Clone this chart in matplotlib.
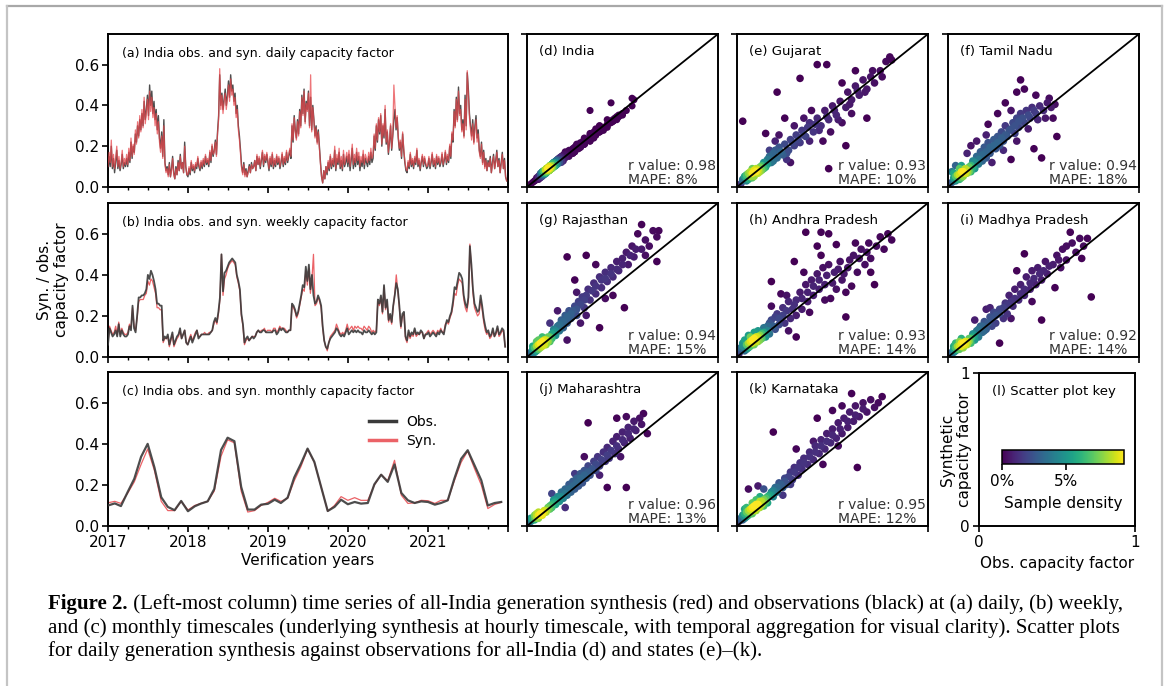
import numpy as np
import pandas as pd
import matplotlib
matplotlib.use('Agg')
import matplotlib.pyplot as plt
import matplotlib.dates as mdates
from matplotlib.lines import Line2D
from matplotlib.colors import Normalize
from matplotlib.cm import ScalarMappable
from matplotlib.ticker import FuncFormatter

# ---------------- DATA ----------------
# Daily (5-day sampled) all-India capacity factor, 73 values per year
daily_obs_2017 = [0.08, 0.15, 0.10, 0.20, 0.09, 0.14, 0.07, 0.12, 0.18, 0.09, 0.13, 0.08,
                  0.11, 0.16, 0.09, 0.12, 0.10, 0.14, 0.10, 0.17, 0.12, 0.22, 0.14, 0.20,
                  0.17, 0.26, 0.22, 0.30, 0.25, 0.33, 0.28, 0.36, 0.30, 0.42, 0.33, 0.38,
                  0.45, 0.35, 0.50, 0.40, 0.47, 0.36, 0.42, 0.33, 0.38, 0.28, 0.35, 0.24,
                  0.19, 0.27, 0.15, 0.33, 0.12, 0.08, 0.10, 0.06, 0.12, 0.05, 0.09, 0.15,
                  0.07, 0.04, 0.10, 0.06, 0.13, 0.08, 0.16, 0.09, 0.12, 0.07, 0.22, 0.10, 0.06]
daily_obs_2018 = [0.05, 0.09, 0.06, 0.12, 0.08, 0.10, 0.07, 0.11, 0.09, 0.14, 0.10, 0.08,
                  0.12, 0.09, 0.13, 0.10, 0.15, 0.11, 0.13, 0.10, 0.17, 0.12, 0.20, 0.15,
                  0.18, 0.23, 0.16, 0.27, 0.35, 0.55, 0.40, 0.46, 0.38, 0.43, 0.48, 0.40,
                  0.45, 0.52, 0.44, 0.55, 0.47, 0.50, 0.42, 0.46, 0.36, 0.40, 0.30, 0.25,
                  0.18, 0.10, 0.07, 0.12, 0.06, 0.09, 0.05, 0.08, 0.11, 0.07, 0.12, 0.09,
                  0.10, 0.13, 0.08, 0.15, 0.11, 0.14, 0.09, 0.13, 0.17, 0.10, 0.15, 0.12, 0.16]
daily_obs_2019 = [0.12, 0.08, 0.14, 0.10, 0.16, 0.09, 0.13, 0.10, 0.15, 0.11, 0.14, 0.09,
                  0.12, 0.16, 0.10, 0.14, 0.11, 0.17, 0.12, 0.15, 0.18, 0.14, 0.30, 0.22,
                  0.35, 0.28, 0.24, 0.33, 0.26, 0.38, 0.30, 0.45, 0.36, 0.48, 0.32, 0.42,
                  0.38, 0.47, 0.30, 0.44, 0.28, 0.40, 0.33, 0.25, 0.30, 0.22, 0.28, 0.20,
                  0.12, 0.05, 0.02, 0.08, 0.04, 0.10, 0.06, 0.12, 0.08, 0.15, 0.09, 0.13,
                  0.10, 0.18, 0.08, 0.14, 0.11, 0.17, 0.09, 0.13, 0.08, 0.16, 0.10, 0.12, 0.15]
daily_obs_2020 = [0.10, 0.16, 0.08, 0.13, 0.19, 0.09, 0.14, 0.10, 0.17, 0.11, 0.15, 0.08,
                  0.13, 0.10, 0.16, 0.09, 0.14, 0.12, 0.10, 0.15, 0.11, 0.17, 0.12, 0.14,
                  0.25, 0.18, 0.30, 0.22, 0.33, 0.26, 0.35, 0.20, 0.30, 0.24, 0.38, 0.21,
                  0.27, 0.16, 0.22, 0.30, 0.18, 0.25, 0.33, 0.38, 0.28, 0.34, 0.24, 0.18,
                  0.22, 0.14, 0.26, 0.18, 0.12, 0.08, 0.07, 0.12, 0.09, 0.16, 0.10, 0.13,
                  0.09, 0.14, 0.11, 0.18, 0.10, 0.13, 0.08, 0.12, 0.15, 0.10, 0.14, 0.11, 0.09]
daily_obs_2021 = [0.10, 0.14, 0.09, 0.12, 0.16, 0.10, 0.13, 0.09, 0.15, 0.11, 0.14, 0.10,
                  0.12, 0.16, 0.10, 0.13, 0.17, 0.11, 0.15, 0.12, 0.20, 0.14, 0.26, 0.22,
                  0.38, 0.30, 0.44, 0.33, 0.49, 0.36, 0.40, 0.28, 0.33, 0.25, 0.45, 0.30,
                  0.56, 0.48, 0.36, 0.30, 0.25, 0.33, 0.22, 0.30, 0.35, 0.24, 0.28, 0.18,
                  0.15, 0.22, 0.12, 0.18, 0.10, 0.14, 0.08, 0.13, 0.10, 0.15, 0.07, 0.12,
                  0.16, 0.09, 0.13, 0.18, 0.10, 0.14, 0.07, 0.12, 0.17, 0.09, 0.14, 0.05, 0.03]

daily_syn_2017 = [0.10, 0.17, 0.12, 0.23, 0.10, 0.16, 0.09, 0.14, 0.20, 0.10, 0.15, 0.09,
                  0.12, 0.18, 0.10, 0.14, 0.11, 0.16, 0.11, 0.19, 0.13, 0.24, 0.15, 0.21,
                  0.16, 0.28, 0.21, 0.32, 0.24, 0.35, 0.27, 0.38, 0.29, 0.44, 0.31, 0.36,
                  0.43, 0.33, 0.47, 0.37, 0.44, 0.34, 0.39, 0.30, 0.36, 0.26, 0.32, 0.22,
                  0.17, 0.25, 0.14, 0.30, 0.11, 0.07, 0.09, 0.05, 0.11, 0.05, 0.08, 0.14,
                  0.06, 0.04, 0.09, 0.06, 0.12, 0.08, 0.15, 0.09, 0.12, 0.07, 0.20, 0.10, 0.06]
daily_syn_2018 = [0.06, 0.10, 0.07, 0.13, 0.09, 0.11, 0.08, 0.12, 0.10, 0.15, 0.11, 0.09,
                  0.13, 0.10, 0.14, 0.11, 0.16, 0.12, 0.14, 0.11, 0.18, 0.13, 0.21, 0.16,
                  0.17, 0.22, 0.15, 0.26, 0.33, 0.58, 0.38, 0.45, 0.36, 0.42, 0.46, 0.38,
                  0.43, 0.50, 0.42, 0.53, 0.45, 0.48, 0.40, 0.44, 0.34, 0.38, 0.28, 0.23,
                  0.16, 0.09, 0.06, 0.11, 0.05, 0.08, 0.05, 0.07, 0.10, 0.07, 0.11, 0.09,
                  0.10, 0.13, 0.08, 0.16, 0.11, 0.15, 0.10, 0.14, 0.18, 0.11, 0.16, 0.13, 0.17]
daily_syn_2019 = [0.13, 0.09, 0.15, 0.11, 0.17, 0.10, 0.14, 0.11, 0.16, 0.12, 0.15, 0.10,
                  0.13, 0.17, 0.11, 0.15, 0.12, 0.18, 0.13, 0.16, 0.19, 0.15, 0.31, 0.23,
                  0.34, 0.27, 0.23, 0.32, 0.25, 0.37, 0.29, 0.44, 0.35, 0.47, 0.31, 0.41,
                  0.37, 0.46, 0.29, 0.55, 0.27, 0.39, 0.32, 0.24, 0.29, 0.21, 0.27, 0.19,
                  0.11, 0.05, 0.02, 0.08, 0.04, 0.10, 0.07, 0.13, 0.09, 0.16, 0.10, 0.14,
                  0.11, 0.20, 0.09, 0.16, 0.12, 0.19, 0.10, 0.15, 0.09, 0.18, 0.11, 0.14, 0.17]
daily_syn_2020 = [0.12, 0.18, 0.10, 0.15, 0.21, 0.11, 0.16, 0.12, 0.19, 0.13, 0.17, 0.10,
                  0.15, 0.12, 0.18, 0.11, 0.16, 0.14, 0.12, 0.17, 0.13, 0.19, 0.14, 0.16,
                  0.26, 0.19, 0.31, 0.23, 0.34, 0.27, 0.36, 0.21, 0.31, 0.25, 0.40, 0.22,
                  0.28, 0.17, 0.23, 0.31, 0.19, 0.26, 0.50, 0.40, 0.29, 0.35, 0.25, 0.19,
                  0.23, 0.15, 0.27, 0.19, 0.13, 0.09, 0.08, 0.13, 0.10, 0.17, 0.11, 0.14,
                  0.10, 0.15, 0.12, 0.19, 0.11, 0.14, 0.09, 0.13, 0.16, 0.11, 0.15, 0.12, 0.10]
daily_syn_2021 = [0.11, 0.15, 0.10, 0.13, 0.17, 0.11, 0.14, 0.10, 0.16, 0.12, 0.15, 0.11,
                  0.13, 0.17, 0.11, 0.14, 0.18, 0.12, 0.16, 0.13, 0.21, 0.15, 0.27, 0.23,
                  0.37, 0.29, 0.43, 0.32, 0.47, 0.35, 0.38, 0.27, 0.31, 0.24, 0.43, 0.28,
                  0.57, 0.46, 0.34, 0.28, 0.23, 0.31, 0.21, 0.28, 0.33, 0.22, 0.26, 0.17,
                  0.14, 0.21, 0.11, 0.17, 0.09, 0.13, 0.08, 0.12, 0.10, 0.14, 0.07, 0.11,
                  0.15, 0.09, 0.12, 0.17, 0.10, 0.13, 0.07, 0.11, 0.16, 0.09, 0.13, 0.05, 0.03]

# Weekly all-India capacity factor, 52 values per year
weekly_obs_2017 = [0.06, 0.14, 0.12, 0.10, 0.11, 0.13, 0.10, 0.16, 0.10, 0.13, 0.11, 0.10, 0.10,
                   0.11, 0.15, 0.13, 0.25, 0.14, 0.12, 0.20, 0.29, 0.29, 0.30, 0.30, 0.31, 0.33,
                   0.40, 0.38, 0.42, 0.40, 0.37, 0.33, 0.26, 0.26, 0.25, 0.25, 0.08, 0.10, 0.09,
                   0.11, 0.06, 0.09, 0.12, 0.06, 0.08, 0.10, 0.11, 0.14, 0.09, 0.11, 0.13, 0.07]
weekly_obs_2018 = [0.06, 0.08, 0.10, 0.07, 0.09, 0.11, 0.13, 0.09, 0.10, 0.11, 0.11, 0.11, 0.11,
                   0.11, 0.11, 0.12, 0.13, 0.17, 0.19, 0.17, 0.22, 0.29, 0.50, 0.32, 0.41, 0.42,
                   0.44, 0.46, 0.47, 0.48, 0.47, 0.46, 0.40, 0.37, 0.33, 0.21, 0.16, 0.07, 0.09,
                   0.10, 0.08, 0.09, 0.10, 0.09, 0.10, 0.12, 0.13, 0.12, 0.12, 0.13, 0.13, 0.12]
weekly_obs_2019 = [0.12, 0.12, 0.12, 0.12, 0.13, 0.13, 0.11, 0.12, 0.14, 0.13, 0.14, 0.13, 0.12,
                   0.12, 0.13, 0.13, 0.26, 0.25, 0.23, 0.20, 0.22, 0.26, 0.30, 0.35, 0.34, 0.44,
                   0.37, 0.45, 0.33, 0.40, 0.30, 0.26, 0.27, 0.30, 0.28, 0.25, 0.15, 0.08, 0.05,
                   0.04, 0.07, 0.09, 0.10, 0.11, 0.12, 0.14, 0.13, 0.11, 0.10, 0.11, 0.10, 0.12]
weekly_obs_2020 = [0.14, 0.11, 0.12, 0.13, 0.12, 0.13, 0.12, 0.13, 0.12, 0.12, 0.11, 0.13, 0.12,
                   0.12, 0.13, 0.12, 0.11, 0.12, 0.11, 0.12, 0.28, 0.26, 0.30, 0.22, 0.35, 0.24,
                   0.28, 0.18, 0.21, 0.17, 0.25, 0.30, 0.36, 0.33, 0.25, 0.15, 0.21, 0.22, 0.10,
                   0.08, 0.13, 0.10, 0.12, 0.11, 0.14, 0.11, 0.12, 0.11, 0.13, 0.12, 0.09, 0.11]
weekly_obs_2021 = [0.11, 0.12, 0.10, 0.11, 0.12, 0.11, 0.10, 0.12, 0.11, 0.13, 0.12, 0.11, 0.15,
                   0.18, 0.17, 0.20, 0.22, 0.27, 0.34, 0.33, 0.37, 0.41, 0.40, 0.38, 0.30, 0.26,
                   0.24, 0.29, 0.54, 0.45, 0.33, 0.26, 0.24, 0.22, 0.23, 0.30, 0.25, 0.19, 0.15,
                   0.12, 0.13, 0.10, 0.11, 0.14, 0.10, 0.12, 0.15, 0.11, 0.12, 0.14, 0.13, 0.05]

weekly_syn_2017 = [0.07, 0.15, 0.13, 0.11, 0.12, 0.15, 0.11, 0.17, 0.11, 0.14, 0.12, 0.11, 0.11,
                   0.12, 0.16, 0.14, 0.24, 0.15, 0.13, 0.19, 0.27, 0.28, 0.28, 0.28, 0.30, 0.31,
                   0.37, 0.35, 0.38, 0.37, 0.34, 0.31, 0.24, 0.24, 0.23, 0.23, 0.07, 0.09, 0.09,
                   0.10, 0.05, 0.08, 0.11, 0.05, 0.07, 0.09, 0.10, 0.13, 0.09, 0.11, 0.13, 0.07]
weekly_syn_2018 = [0.06, 0.09, 0.11, 0.08, 0.10, 0.12, 0.13, 0.10, 0.10, 0.11, 0.11, 0.12, 0.11,
                   0.11, 0.12, 0.12, 0.13, 0.16, 0.18, 0.16, 0.21, 0.28, 0.50, 0.30, 0.38, 0.40,
                   0.43, 0.45, 0.46, 0.47, 0.46, 0.45, 0.39, 0.36, 0.32, 0.20, 0.15, 0.06, 0.08,
                   0.09, 0.08, 0.09, 0.10, 0.10, 0.10, 0.12, 0.13, 0.12, 0.13, 0.13, 0.14, 0.12]
weekly_syn_2019 = [0.13, 0.13, 0.13, 0.12, 0.14, 0.14, 0.12, 0.13, 0.15, 0.14, 0.14, 0.14, 0.13,
                   0.12, 0.13, 0.13, 0.25, 0.24, 0.22, 0.19, 0.21, 0.25, 0.29, 0.33, 0.32, 0.42,
                   0.35, 0.43, 0.31, 0.38, 0.50, 0.25, 0.26, 0.29, 0.27, 0.24, 0.14, 0.08, 0.05,
                   0.03, 0.07, 0.10, 0.11, 0.12, 0.13, 0.16, 0.14, 0.12, 0.11, 0.12, 0.11, 0.13]
weekly_syn_2020 = [0.16, 0.13, 0.14, 0.15, 0.13, 0.15, 0.14, 0.15, 0.14, 0.14, 0.13, 0.15, 0.14,
                   0.13, 0.15, 0.14, 0.12, 0.13, 0.12, 0.13, 0.27, 0.25, 0.29, 0.21, 0.34, 0.23,
                   0.27, 0.17, 0.20, 0.16, 0.24, 0.31, 0.40, 0.32, 0.24, 0.14, 0.20, 0.21, 0.09,
                   0.07, 0.12, 0.09, 0.11, 0.10, 0.13, 0.10, 0.11, 0.11, 0.12, 0.12, 0.09, 0.11]
weekly_syn_2021 = [0.12, 0.13, 0.11, 0.12, 0.13, 0.12, 0.11, 0.13, 0.12, 0.14, 0.12, 0.12, 0.16,
                   0.17, 0.16, 0.19, 0.21, 0.25, 0.31, 0.30, 0.35, 0.38, 0.37, 0.36, 0.28, 0.24,
                   0.22, 0.27, 0.55, 0.43, 0.31, 0.24, 0.22, 0.20, 0.21, 0.28, 0.23, 0.17, 0.13,
                   0.11, 0.12, 0.09, 0.10, 0.13, 0.10, 0.11, 0.14, 0.10, 0.11, 0.13, 0.12, 0.05]

# Monthly all-India capacity factor, Jan 2017 .. Dec 2021
monthly_obs = [0.100, 0.110, 0.097, 0.166, 0.230, 0.337, 0.400, 0.285, 0.140, 0.093, 0.077, 0.122,
               0.072, 0.096, 0.109, 0.120, 0.180, 0.370, 0.430, 0.413, 0.190, 0.080, 0.080, 0.104,
               0.108, 0.128, 0.112, 0.138, 0.236, 0.304, 0.377, 0.312, 0.190, 0.073, 0.093, 0.128,
               0.106, 0.117, 0.109, 0.112, 0.203, 0.250, 0.215, 0.300, 0.161, 0.125, 0.112, 0.120,
               0.117, 0.104, 0.112, 0.125, 0.230, 0.327, 0.369, 0.296, 0.223, 0.100, 0.112, 0.117]
monthly_syn = [0.113, 0.120, 0.110, 0.160, 0.215, 0.300, 0.375, 0.270, 0.120, 0.075, 0.075, 0.120,
               0.078, 0.100, 0.110, 0.120, 0.170, 0.340, 0.420, 0.405, 0.170, 0.068, 0.075, 0.100,
               0.115, 0.135, 0.120, 0.135, 0.220, 0.290, 0.375, 0.310, 0.190, 0.072, 0.100, 0.143,
               0.125, 0.138, 0.125, 0.125, 0.200, 0.250, 0.220, 0.320, 0.150, 0.110, 0.113, 0.125,
               0.123, 0.110, 0.125, 0.125, 0.220, 0.310, 0.365, 0.280, 0.200, 0.085, 0.105, 0.115]

# Scatter panels: (obs, syn) daily capacity factor samples for each state
gujarat_pts = [(0.03,0.04),(0.05,0.06),(0.06,0.05),(0.08,0.09),(0.07,0.10),(0.09,0.07),(0.10,0.12),(0.11,0.09),
               (0.12,0.13),(0.04,0.07),(0.13,0.11),(0.14,0.16),(0.15,0.13),(0.16,0.18),(0.06,0.09),(0.09,0.11),
               (0.18,0.16),(0.19,0.22),(0.21,0.19),(0.22,0.26),(0.24,0.21),(0.25,0.28),(0.27,0.24),(0.28,0.31),
               (0.30,0.27),(0.17,0.24),(0.20,0.30),(0.26,0.18),(0.31,0.34),(0.33,0.29),(0.34,0.37),(0.36,0.33),
               (0.38,0.42),(0.40,0.36),(0.42,0.45),(0.44,0.40),(0.46,0.50),(0.48,0.44),(0.50,0.53),(0.52,0.47),
               (0.39,0.50),(0.45,0.30),(0.55,0.42),(0.35,0.45),(0.54,0.56),(0.57,0.52),(0.58,0.62),(0.60,0.57),
               (0.62,0.66),(0.64,0.60),(0.66,0.70),(0.68,0.64),(0.70,0.72),(0.72,0.68),(0.75,0.76),(0.78,0.82),
               (0.80,0.85),(0.81,0.83),(0.03,0.43),(0.21,0.62),(0.33,0.71),(0.42,0.80),(0.47,0.80),(0.25,0.45),
               (0.57,0.27),(0.68,0.45),(0.48,0.12),(0.28,0.16),(0.15,0.35),(0.62,0.76),(0.55,0.68),
               (0.02,0.02),(0.03,0.05),(0.05,0.04),(0.07,0.07),(0.08,0.06),(0.10,0.10),(0.11,0.11),(0.12,0.10),
               (0.13,0.14),(0.05,0.08),(0.08,0.12),(0.14,0.12),(0.16,0.15),(0.17,0.20),(0.19,0.17),(0.20,0.24),
               (0.23,0.23),(0.26,0.22),(0.29,0.29),(0.32,0.31),(0.35,0.34),(0.37,0.39),(0.41,0.41),(0.43,0.37),
               (0.47,0.46),(0.51,0.50),(0.53,0.44),(0.59,0.54),(0.63,0.63),(0.67,0.62),(0.22,0.34),(0.30,0.40),
               (0.38,0.30),(0.49,0.36),(0.60,0.48),(0.71,0.76),(0.76,0.72)]
tamil_nadu_pts = [(0.02,0.03),(0.03,0.06),(0.04,0.04),(0.05,0.08),(0.06,0.05),(0.07,0.10),(0.08,0.07),(0.09,0.12),
                  (0.10,0.09),(0.02,0.10),(0.04,0.14),(0.11,0.13),(0.12,0.10),(0.06,0.12),(0.13,0.17),(0.14,0.12),
                  (0.15,0.20),(0.16,0.15),(0.17,0.23),(0.18,0.17),(0.19,0.26),(0.20,0.19),(0.21,0.29),(0.22,0.22),
                  (0.10,0.22),(0.12,0.27),(0.15,0.30),(0.23,0.16),(0.25,0.25),(0.24,0.31),(0.26,0.33),(0.27,0.27),
                  (0.28,0.36),(0.29,0.30),(0.30,0.40),(0.31,0.33),(0.32,0.37),(0.34,0.42),(0.35,0.35),(0.36,0.45),
                  (0.37,0.39),(0.38,0.48),(0.40,0.42),(0.41,0.50),(0.43,0.45),(0.44,0.52),(0.46,0.48),(0.48,0.53),
                  (0.50,0.50),(0.52,0.55),(0.54,0.52),(0.56,0.54),(0.38,0.70),(0.36,0.62),(0.40,0.64),(0.49,0.19),
                  (0.45,0.25),(0.57,0.33),(0.30,0.55),(0.21,0.41),(0.33,0.18),(0.46,0.60),(0.55,0.45),(0.26,0.48),
                  (0.01,0.02),(0.03,0.04),(0.04,0.07),(0.05,0.05),(0.06,0.08),(0.07,0.06),(0.08,0.10),(0.09,0.09),
                  (0.10,0.11),(0.11,0.10),(0.12,0.14),(0.13,0.13),(0.03,0.09),(0.07,0.14),(0.14,0.16),(0.16,0.18),
                  (0.18,0.21),(0.20,0.23),(0.22,0.26),(0.24,0.27),(0.26,0.29),(0.28,0.32),(0.30,0.34),(0.33,0.38),
                  (0.35,0.40),(0.37,0.43),(0.39,0.45),(0.42,0.47),(0.45,0.50),(0.47,0.44),(0.20,0.34),(0.29,0.24),
                  (0.36,0.30),(0.42,0.38),(0.51,0.45),(0.33,0.50),(0.53,0.58)]
rajasthan_pts = [(0.02,0.03),(0.03,0.05),(0.04,0.03),(0.05,0.07),(0.06,0.05),(0.07,0.09),(0.08,0.07),(0.09,0.11),
                 (0.10,0.08),(0.11,0.13),(0.12,0.10),(0.05,0.10),(0.08,0.13),(0.13,0.15),(0.14,0.18),(0.15,0.14),
                 (0.16,0.20),(0.17,0.17),(0.18,0.24),(0.19,0.19),(0.20,0.27),(0.21,0.22),(0.22,0.30),(0.23,0.25),
                 (0.25,0.33),(0.26,0.27),(0.27,0.36),(0.12,0.22),(0.16,0.30),(0.21,0.11),(0.28,0.22),(0.29,0.39),
                 (0.30,0.32),(0.32,0.44),(0.33,0.37),(0.35,0.48),(0.36,0.41),(0.38,0.52),(0.39,0.45),(0.41,0.55),
                 (0.42,0.49),(0.44,0.58),(0.45,0.52),(0.47,0.62),(0.48,0.56),(0.50,0.64),(0.51,0.32),(0.38,0.19),
                 (0.45,0.40),(0.52,0.68),(0.53,0.60),(0.55,0.72),(0.56,0.65),(0.58,0.80),(0.60,0.70),(0.62,0.76),
                 (0.64,0.72),(0.66,0.82),(0.68,0.78),(0.69,0.82),(0.68,0.62),(0.21,0.65),(0.31,0.66),(0.25,0.50),
                 (0.36,0.60),(0.60,0.86),
                 (0.01,0.02),(0.03,0.03),(0.04,0.06),(0.05,0.04),(0.06,0.08),(0.07,0.06),(0.08,0.10),(0.09,0.08),
                 (0.10,0.11),(0.11,0.10),(0.12,0.13),(0.03,0.07),(0.06,0.11),(0.13,0.12),(0.14,0.16),(0.15,0.17),
                 (0.17,0.21),(0.19,0.23),(0.21,0.26),(0.23,0.28),(0.24,0.30),(0.26,0.31),(0.28,0.34),(0.30,0.37),
                 (0.31,0.40),(0.34,0.43),(0.36,0.46),(0.39,0.50),(0.41,0.51),(0.44,0.54),(0.47,0.57),(0.50,0.60),
                 (0.54,0.66),(0.57,0.70),(0.31,0.27),(0.41,0.38),(0.26,0.42),(0.62,0.66)]
andhra_pradesh_pts = [(0.02,0.04),(0.03,0.07),(0.05,0.05),(0.06,0.09),(0.07,0.07),(0.08,0.11),(0.09,0.08),(0.10,0.13),
                      (0.11,0.10),(0.12,0.14),(0.04,0.11),(0.13,0.12),(0.14,0.16),(0.06,0.14),(0.15,0.13),(0.09,0.16),
                      (0.16,0.20),(0.17,0.15),(0.18,0.24),(0.20,0.18),(0.21,0.28),(0.22,0.21),(0.24,0.32),(0.25,0.22),
                      (0.27,0.36),(0.28,0.25),(0.30,0.34),(0.31,0.27),(0.18,0.33),(0.23,0.41),(0.31,0.13),(0.27,0.17),
                      (0.33,0.42),(0.34,0.31),(0.36,0.47),(0.37,0.36),(0.39,0.50),(0.40,0.40),(0.42,0.54),(0.43,0.44),
                      (0.45,0.58),(0.46,0.47),(0.48,0.60),(0.49,0.38),(0.51,0.55),(0.52,0.44),(0.54,0.62),(0.55,0.50),
                      (0.57,0.26),(0.58,0.58),(0.60,0.46),(0.35,0.55),(0.44,0.66),(0.61,0.66),(0.63,0.55),(0.65,0.70),
                      (0.67,0.60),(0.69,0.74),(0.70,0.64),(0.72,0.47),(0.73,0.72),(0.75,0.78),(0.77,0.70),(0.79,0.80),
                      (0.81,0.76),(0.62,0.74),(0.70,0.55),(0.36,0.81),(0.44,0.81),(0.48,0.80),(0.42,0.72),(0.18,0.49),
                      (0.30,0.62),(0.52,0.73),
                      (0.01,0.02),(0.02,0.06),(0.04,0.04),(0.05,0.08),(0.06,0.06),(0.07,0.10),(0.08,0.09),(0.09,0.12),
                      (0.10,0.10),(0.11,0.13),(0.12,0.11),(0.13,0.15),(0.03,0.09),(0.07,0.13),(0.11,0.17),(0.14,0.19),
                      (0.16,0.17),(0.17,0.22),(0.19,0.20),(0.20,0.26),(0.22,0.25),(0.24,0.27),(0.26,0.30),(0.29,0.31),
                      (0.31,0.37),(0.34,0.38),(0.37,0.42),(0.40,0.46),(0.43,0.50),(0.47,0.53),(0.50,0.48),(0.53,0.57),
                      (0.56,0.54),(0.59,0.63),(0.64,0.64),(0.68,0.68),(0.26,0.40),(0.38,0.29),(0.46,0.37),(0.57,0.42)]
madhya_pradesh_pts = [(0.02,0.03),(0.03,0.05),(0.04,0.04),(0.05,0.07),(0.06,0.05),(0.07,0.09),(0.08,0.06),(0.09,0.10),
                      (0.10,0.08),(0.11,0.12),(0.12,0.09),(0.04,0.09),(0.13,0.13),(0.07,0.12),(0.14,0.11),(0.15,0.17),
                      (0.16,0.13),(0.17,0.20),(0.18,0.16),(0.19,0.23),(0.20,0.18),(0.22,0.26),(0.23,0.20),(0.24,0.29),
                      (0.25,0.22),(0.27,0.31),(0.27,0.09),(0.14,0.24),(0.20,0.31),(0.29,0.25),(0.30,0.35),(0.31,0.28),
                      (0.32,0.40),(0.34,0.33),(0.35,0.44),(0.37,0.37),(0.38,0.47),(0.40,0.40),(0.41,0.52),(0.43,0.44),
                      (0.44,0.56),(0.46,0.47),(0.47,0.58),(0.49,0.24),(0.49,0.50),(0.51,0.62),(0.52,0.54),(0.40,0.67),
                      (0.36,0.56),(0.55,0.60),(0.56,0.45),(0.57,0.66),(0.59,0.58),(0.60,0.70),(0.62,0.63),(0.64,0.81),
                      (0.65,0.74),(0.67,0.68),(0.69,0.77),(0.71,0.72),(0.73,0.77),(0.75,0.39),(0.70,0.64),
                      (0.01,0.02),(0.03,0.03),(0.04,0.06),(0.05,0.05),(0.06,0.07),(0.07,0.07),(0.08,0.09),(0.09,0.08),
                      (0.10,0.10),(0.11,0.10),(0.12,0.12),(0.03,0.07),(0.06,0.10),(0.13,0.15),(0.14,0.14),(0.16,0.18),
                      (0.18,0.20),(0.19,0.17),(0.21,0.22),(0.23,0.25),(0.25,0.27),(0.27,0.28),(0.29,0.32),(0.31,0.34),
                      (0.33,0.36),(0.35,0.38),(0.38,0.41),(0.40,0.44),(0.43,0.48),(0.45,0.51),(0.48,0.54),(0.50,0.56),
                      (0.53,0.59),(0.58,0.63),(0.22,0.32),(0.33,0.25),(0.44,0.36),(0.62,0.72)]
maharashtra_pts = [(0.02,0.03),(0.03,0.05),(0.04,0.04),(0.05,0.06),(0.06,0.05),(0.07,0.08),(0.08,0.07),(0.09,0.10),
                   (0.10,0.09),(0.11,0.12),(0.04,0.07),(0.12,0.11),(0.06,0.09),(0.13,0.14),(0.14,0.17),(0.15,0.14),
                   (0.16,0.19),(0.17,0.16),(0.18,0.22),(0.19,0.18),(0.20,0.24),(0.21,0.20),(0.22,0.27),(0.23,0.22),
                   (0.24,0.29),(0.25,0.24),(0.26,0.31),(0.27,0.26),(0.20,0.12),(0.13,0.21),(0.28,0.34),(0.29,0.28),
                   (0.30,0.36),(0.31,0.31),(0.32,0.39),(0.33,0.33),(0.35,0.42),(0.36,0.36),(0.37,0.45),(0.38,0.39),
                   (0.40,0.48),(0.41,0.42),(0.42,0.51),(0.43,0.44),(0.45,0.55),(0.46,0.47),(0.42,0.25),(0.52,0.25),
                   (0.47,0.58),(0.48,0.50),(0.50,0.61),(0.51,0.54),(0.53,0.64),(0.54,0.57),(0.56,0.68),(0.57,0.62),
                   (0.59,0.70),(0.60,0.66),(0.61,0.73),(0.63,0.60),(0.32,0.67),(0.47,0.70),(0.52,0.71),(0.30,0.45),
                   (0.01,0.02),(0.03,0.04),(0.04,0.05),(0.05,0.05),(0.06,0.07),(0.07,0.07),(0.08,0.08),(0.09,0.09),
                   (0.10,0.10),(0.11,0.11),(0.12,0.13),(0.02,0.05),(0.05,0.08),(0.13,0.12),(0.14,0.15),(0.15,0.16),
                   (0.17,0.18),(0.18,0.19),(0.20,0.21),(0.22,0.24),(0.24,0.26),(0.26,0.28),(0.28,0.31),(0.30,0.33),
                   (0.32,0.35),(0.34,0.37),(0.36,0.40),(0.39,0.43),(0.42,0.46),(0.44,0.49),(0.47,0.52),(0.50,0.56),
                   (0.53,0.60),(0.56,0.63),(0.38,0.33),(0.25,0.34),(0.49,0.45)]
karnataka_pts = [(0.02,0.04),(0.03,0.07),(0.04,0.05),(0.05,0.09),(0.06,0.07),(0.07,0.11),(0.08,0.08),(0.09,0.13),
                 (0.10,0.10),(0.11,0.14),(0.12,0.12),(0.13,0.16),(0.14,0.13),(0.15,0.18),(0.05,0.12),(0.10,0.17),
                 (0.16,0.15),(0.17,0.20),(0.18,0.22),(0.19,0.19),(0.20,0.25),(0.21,0.22),(0.22,0.28),(0.24,0.25),
                 (0.25,0.31),(0.26,0.27),(0.28,0.35),(0.29,0.30),(0.30,0.38),(0.32,0.33),(0.06,0.24),(0.11,0.26),
                 (0.24,0.20),(0.33,0.41),(0.34,0.37),(0.35,0.44),(0.37,0.40),(0.38,0.48),(0.40,0.43),(0.41,0.52),
                 (0.43,0.47),(0.44,0.56),(0.46,0.50),(0.47,0.60),(0.49,0.54),(0.50,0.63),(0.52,0.57),(0.53,0.67),
                 (0.55,0.60),(0.31,0.50),(0.45,0.40),(0.63,0.38),(0.56,0.70),(0.58,0.64),(0.59,0.74),(0.61,0.68),
                 (0.62,0.78),(0.64,0.71),(0.66,0.80),(0.68,0.74),(0.70,0.82),(0.72,0.77),(0.74,0.80),(0.76,0.84),
                 (0.55,0.78),(0.50,0.75),(0.19,0.61),(0.42,0.70),(0.60,0.86),
                 (0.01,0.03),(0.02,0.05),(0.03,0.04),(0.04,0.08),(0.05,0.06),(0.06,0.10),(0.07,0.09),(0.08,0.12),
                 (0.09,0.10),(0.10,0.14),(0.11,0.12),(0.12,0.16),(0.13,0.14),(0.14,0.17),(0.15,0.16),(0.16,0.19),
                 (0.04,0.11),(0.08,0.15),(0.12,0.19),(0.18,0.20),(0.19,0.23),(0.21,0.25),(0.23,0.27),(0.25,0.29),
                 (0.27,0.32),(0.30,0.35),(0.32,0.38),(0.35,0.41),(0.38,0.45),(0.41,0.48),(0.44,0.52),(0.47,0.55),
                 (0.50,0.59),(0.54,0.63),(0.58,0.68),(0.62,0.72),(0.66,0.76),(0.14,0.24),(0.28,0.27),(0.40,0.55),
                 (0.53,0.52)]

scatter_labels = ['(d) India', '(e) Gujarat', '(f) Tamil Nadu', '(g) Rajasthan', '(h) Andhra Pradesh',
                  '(i) Madhya Pradesh', '(j) Maharashtra', '(k) Karnataka']
r_values = [0.98, 0.93, 0.94, 0.94, 0.93, 0.92, 0.96, 0.95]
mape_values = [8, 10, 18, 15, 14, 14, 13, 12]
density_range = [0.0, 0.095]
density_ticks = [0.0, 0.05]
density_ticklabels = ['0%', '5%']
year_labels = ['2017', '2018', '2019', '2020', '2021']

caption_lines = [
    ' (Left-most column) time series of all-India generation synthesis (red) and observations (black) at (a) daily, (b) weekly,',
    'and (c) monthly timescales (underlying synthesis at hourly timescale, with temporal aggregation for visual clarity). Scatter plots',
    'for daily generation synthesis against observations for all-India (d) and states (e)\u2013(k).',
]

# ---------------- FIGURE ----------------
W, H = 1170, 686
DPI = 100
plt.rcParams['font.family'] = ['DejaVu Sans']
fig = plt.figure(figsize=(W / DPI, H / DPI), dpi=DPI)
fig.patch.set_facecolor('white')


def fr(left, top, right, bottom):
    return [left / W, 1 - bottom / H, (right - left) / W, (bottom - top) / H]


OBS_C = '#3a3a3a'
SYN_C = '#e8474c'
SPINE_W = 1.4

daily_obs = daily_obs_2017 + daily_obs_2018 + daily_obs_2019 + daily_obs_2020 + daily_obs_2021
daily_syn = daily_syn_2017 + daily_syn_2018 + daily_syn_2019 + daily_syn_2020 + daily_syn_2021
weekly_obs = weekly_obs_2017 + weekly_obs_2018 + weekly_obs_2019 + weekly_obs_2020 + weekly_obs_2021
weekly_syn = weekly_syn_2017 + weekly_syn_2018 + weekly_syn_2019 + weekly_syn_2020 + weekly_syn_2021

daily_dates = pd.date_range('2017-01-01', periods=len(daily_obs), freq='5D')
weekly_dates = pd.date_range('2017-01-01', periods=len(weekly_obs), freq='7D')
monthly_dates = pd.date_range('2017-01-01', periods=len(monthly_obs), freq='MS')

ts_boxes = [fr(108, 34, 508, 187), fr(108, 203, 508, 357), fr(108, 372, 508, 526)]
ts_titles = ['(a) India obs. and syn. daily capacity factor',
             '(b) India obs. and syn. weekly capacity factor',
             '(c) India obs. and syn. monthly capacity factor']
ts_data = [(daily_dates, daily_obs, daily_syn, 1.0, 0.9),
           (weekly_dates, weekly_obs, weekly_syn, 1.3, 0.9),
           (monthly_dates, monthly_obs, monthly_syn, 1.6, 0.9)]


def year_fmt(x, pos):
    d = mdates.num2date(x)
    s = str(d.year)
    return s if s in year_labels else ''


ts_axes = []
for i, (box, title, (dates, obs, syn, lwo, lws)) in enumerate(zip(ts_boxes, ts_titles, ts_data)):
    ax = fig.add_axes(box)
    ts_axes.append(ax)
    if i == 0:
        ax.plot(dates, obs, color=OBS_C, lw=lwo, alpha=0.9, zorder=2)
        ax.plot(dates, syn, color=SYN_C, lw=lws, alpha=0.75, zorder=3)
    else:
        ax.plot(dates, syn, color=SYN_C, lw=lws, alpha=0.85, zorder=2)
        ax.plot(dates, obs, color=OBS_C, lw=lwo, alpha=0.9, zorder=3)
    ax.set_xlim(pd.Timestamp('2017-01-01'), pd.Timestamp('2022-01-01'))
    ax.set_ylim(0, 0.75)
    ax.set_yticks([0.0, 0.2, 0.4, 0.6])
    ax.yaxis.set_major_formatter(FuncFormatter(lambda v, p: f'{v:.1f}'))
    ax.xaxis.set_major_locator(mdates.YearLocator())
    ax.xaxis.set_minor_locator(mdates.MonthLocator(bymonth=[4, 7, 10]))
    ax.xaxis.set_major_formatter(FuncFormatter(year_fmt))
    ax.tick_params(which='major', direction='out', length=4.5, width=1.2, labelsize=11, pad=2)
    ax.tick_params(which='minor', direction='out', length=2.5, width=1.0)
    if i < 2:
        ax.tick_params(axis='x', labelbottom=False)
    for s in ax.spines.values():
        s.set_linewidth(SPINE_W)
    ax.text(0.035, 0.875, title, transform=ax.transAxes, fontsize=9, va='center', ha='left')

ts_axes[1].set_ylabel('Syn. / obs.\ncapacity factor', fontsize=11, labelpad=4)
ts_axes[2].set_xlabel('Verification years', fontsize=11, labelpad=2)
leg_handles = [Line2D([], [], color=OBS_C, lw=2.5), Line2D([], [], color=SYN_C, lw=2.5, alpha=0.85)]
ts_axes[2].legend(leg_handles, ['Obs.', 'Syn.'], loc='upper left', bbox_to_anchor=(0.62, 0.80),
                  frameon=False, fontsize=10, handlelength=2.0, handletextpad=0.7, labelspacing=0.35)

# Scatter panels
col_x = [(527, 718), (737, 928), (948, 1139)]
row_y = [(34, 187), (203, 357), (372, 526)]
scatter_sets = [(np.array(daily_obs), np.array(daily_syn))]
for pts in [gujarat_pts, tamil_nadu_pts, rajasthan_pts, andhra_pradesh_pts,
            madhya_pradesh_pts, maharashtra_pts, karnataka_pts]:
    a = np.array(pts)
    scatter_sets.append((a[:, 0], a[:, 1]))


def kde_density(x, y, h=0.05):
    dx = x[:, None] - x[None, :]
    dy = y[:, None] - y[None, :]
    return np.exp(-(dx ** 2 + dy ** 2) / (2 * h * h)).sum(axis=1)


for k, ((x, y), lab, r, m) in enumerate(zip(scatter_sets, scatter_labels, r_values, mape_values)):
    row, col = divmod(k, 3)
    (l, rr), (t, b) = col_x[col], row_y[row]
    ax = fig.add_axes(fr(l, t, rr, b))
    d = kde_density(x, y, h=0.035 if k == 0 else 0.05)
    c = (d / d.max()) ** (3.0 if k == 0 else 2.2)
    order = np.argsort(c)
    ax.scatter(x[order], y[order], c=c[order], cmap='viridis',
               norm=Normalize(0, 1), s=30 if k else 26, linewidths=0, zorder=2)
    ax.axline((0, 0), slope=1, color='black', lw=1.3, zorder=3)
    ax.set_xlim(0, 1)
    ax.set_ylim(0, 1)
    ax.set_xticks([0, 1])
    ax.set_yticks([0, 1])
    ax.tick_params(direction='out', length=4.5, width=1.2, labelbottom=False, labelleft=False)
    for s in ax.spines.values():
        s.set_linewidth(SPINE_W)
    ax.text(0.065, 0.885, lab, transform=ax.transAxes, fontsize=9.5, va='center', ha='left')
    ax.text(0.99, 0.0, f'r value: {r:.2f}\nMAPE: {m}%', transform=ax.transAxes, fontsize=10,
            ha='right', va='bottom', multialignment='left', color='#333333', linespacing=1.0, zorder=4)

# Key panel
axk = fig.add_axes(fr(979, 373, 1135, 526))
axk.set_xlim(0, 1)
axk.set_ylim(0, 1)
axk.set_xticks([0, 1])
axk.set_yticks([0, 1])
axk.set_xticklabels(['0', '1'])
axk.set_yticklabels(['0', '1'])
axk.tick_params(direction='out', length=4.5, width=1.2, labelsize=11, pad=2)
for s in axk.spines.values():
    s.set_linewidth(SPINE_W)
axk.set_xlabel('Obs. capacity factor', fontsize=11, labelpad=4)
axk.set_ylabel('Synthetic\ncapacity factor', fontsize=11)
axk.yaxis.set_label_coords(-0.045, 0.5)
axk.text(0.085, 0.88, '(l) Scatter plot key', transform=axk.transAxes, fontsize=9.5, va='center')

cax = fig.add_axes(fr(1002, 450, 1124, 464))
cb = fig.colorbar(ScalarMappable(norm=Normalize(*density_range), cmap='viridis'), cax=cax,
                  orientation='horizontal')
cb.set_ticks(density_ticks)
cb.set_ticklabels(density_ticklabels)
cb.ax.tick_params(labelsize=11, length=4, width=1.2, pad=3)
cb.outline.set_linewidth(1.1)
cb.set_label('Sample density', fontsize=11, labelpad=5)

# Figure frame
frame_c = '#c4c4c4'
fig.add_artist(Line2D([7 / W, 1162 / W], [1 - 5.5 / H, 1 - 5.5 / H], color='#a8a8a8', lw=1.6))
fig.add_artist(Line2D([7 / W, 7 / W], [1 - 5.5 / H, 0], color=frame_c, lw=1.6))
fig.add_artist(Line2D([1162 / W, 1162 / W], [1 - 5.5 / H, 0], color=frame_c, lw=1.6))

# Caption
cap_font = 'Liberation Serif'
cap_size = 15.0
t1 = fig.text(48 / W, 1 - 604 / H, 'Figure 2.', fontfamily=cap_font, fontweight='bold',
              fontsize=cap_size, va='center', ha='left')
ts_axes[0].annotate(caption_lines[0], xy=(1, 0), xycoords=t1, va='bottom', ha='left',
                    fontfamily=cap_font, fontsize=cap_size, annotation_clip=False)
fig.text(48 / W, 1 - 628 / H, caption_lines[1], fontfamily=cap_font, fontsize=cap_size, va='center', ha='left')
fig.text(48 / W, 1 - 651 / H, caption_lines[2], fontfamily=cap_font, fontsize=cap_size, va='center', ha='left')

fig.savefig('out.png', dpi=DPI)
